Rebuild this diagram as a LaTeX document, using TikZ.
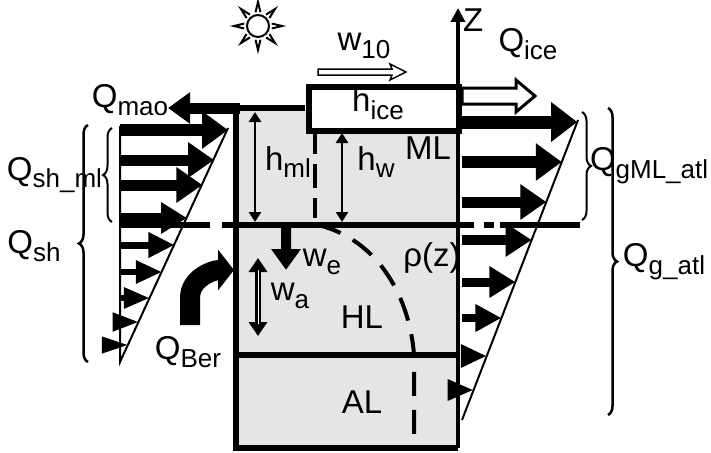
\documentclass[tikz,border=0pt]{standalone}
\usepackage{fontspec}
\setmainfont{Liberation Sans}
\usetikzlibrary{arrows.meta}
\usetikzlibrary{calc}
\usetikzlibrary{decorations.pathreplacing}
\usetikzlibrary{positioning}

\newcommand{\sub}[1]{\raisebox{-0.45ex}{\fontsize{26}{28}\selectfont #1}}

\tikzset{
	lbl/.style={font=\fontsize{33}{36}\selectfont, inner sep=1pt},
	dbl/.style={line width=2.5pt, {Triangle[length=10pt,width=12pt]}-{Triangle[length=10pt,width=12pt]}},
	brc/.style={decorate, decoration={brace, amplitude=9pt}, line width=2pt},
	bnd/.style={line width=6pt},
}

\begin{document}
\begin{tikzpicture}[x=1pt, y=-1pt]
	\useasboundingbox (0,0) rectangle (711,452);

	% Ocean column
	\fill[gray!20] (236,108) rectangle (458,448);
	\draw[bnd] (236,108) -- (236,448) -- (458,448);
	\draw[bnd] (236,108) -- (305,108);
	\draw[bnd] (236,355) -- (458,355);
	\draw[bnd] (236,225) -- (458,225);
	\draw[bnd, dash pattern=on 90pt off 12pt on 20pt off 500pt] (120,225) -- (236,225);
	\draw[bnd, dash pattern=on 16pt off 10pt on 10pt off 6pt on 100pt] (458,225) -- (580,225);

	% Ice
	\node[draw, line width=6pt, fill=white, minimum width=150pt, minimum height=44pt,
		anchor=north west] (ice) at (306,84) {};
	\node[lbl] (hice) at (378,104) {h\sub{ice}};

	% Z axis
	\coordinate (z0) at (458,448);
	\coordinate (z1) at (458,8);
	\draw[line width=4pt, -{Triangle[length=14pt,width=14pt]}] (z0) -- (z1);
	\node[lbl, right=4pt of z1, yshift=-12pt] (zlab) {Z};

	% Sun
	\node[circle, draw, line width=2pt, minimum size=22pt] (sun) at (258,26) {};
	\foreach \a in {0,45,...,315}
		\draw[line width=2pt] ($(sun.center)+(\a-10:14pt)$) -- ($(sun.center)+(\a:24pt)$) -- ($(sun.center)+(\a+10:14pt)$);

	% Wind
	\node[lbl] (w10) at (364,46) {w\sub{10}};
	\draw[line width=1.5pt] (318,69) -- (392,69) -- (390,64) -- (406,72) -- (390,80) -- (392,75) -- (318,75) -- cycle;

	% Ice heat flux
	\node[lbl] (qice) at (528,44) {Q\sub{ice}};
	\draw[line width=3pt, fill=white] (462,88) -- (516,88) -- (516,80) -- (535,96) -- (516,112) -- (516,104) -- (462,104) -- cycle;

	% Heat loss to atmosphere
	\node[lbl] (qmao) at (130,100) {Q\sub{mao}};
	\coordinate (m0) at (240,108);
	\coordinate (m1) at (168,108);
	\draw[line width=11pt, -{Triangle[length=22pt,width=30pt]}] (m0) -- (m1);

	% Mixed layer depths
	\coordinate (ml0) at (255,112);
	\coordinate (ml1) at (255,222);
	\draw[dbl] (ml0) -- (ml1);
	\node[lbl] (hml) at (288,162) {h\sub{ml}};
	\coordinate (hw0) at (342,133);
	\coordinate (hw1) at (342,222);
	\draw[dbl] (hw0) -- (hw1);
	\node[lbl] (hw) at (376,162) {h\sub{w}};
	\node[lbl] (ml) at (428,148) {ML};

	% Density profile
	\draw[line width=4pt, dash pattern=on 24pt off 10pt] (315,130) -- (315,218);
	\draw[line width=4pt, dash pattern=on 24pt off 14pt] (318,225) .. controls (380,240) and (410,300) .. (414,355) -- (414,445);
	\node[lbl] (rho) at (432,258) {ρ(z)};

	% Entrainment and advection
	\draw[line width=2pt, fill=black] (282,225) -- (282,250) -- (273,250) -- (286,268) -- (299,250) -- (290,250) -- (290,225) -- cycle;
	\node[lbl] (we) at (322,262) {w\sub{e}};
	\coordinate (wa0) at (258,258);
	\coordinate (wa1) at (258,336);
	\draw[line width=6pt, {Triangle[length=14pt,width=18pt]}-{Triangle[length=14pt,width=18pt]}] (wa0) -- (wa1);
	\draw[line width=1pt, white, shorten <=12pt, shorten >=12pt] (wa0) -- (wa1);
	\node[lbl] (wa) at (290,296) {w\sub{a}};
	\node[lbl] (hl) at (362,317) {HL};
	\node[lbl] (al) at (362,402) {AL};

	% Bering strait inflow
	\coordinate (b0) at (190,325);
	\coordinate (b1) at (234,270);
	\draw[line width=20pt, -{Triangle[length=16pt,width=40pt]}] (b0) -- (190,298) to[out=90, in=180] (b1);
	\node[lbl] (qber) at (188,352) {Q\sub{Ber}};

	% Shortwave profile (left)
	\draw[line width=2pt] (120,126) -- (120,362) -- (228,128);
	\foreach \y/\w/\h in {130/12/36, 160/11/34, 185/11/34, 218/10/30, 245/7/24, 272/6/22, 298/6/20, 322/5/18, 345/4/16}
		\draw[line width=\w pt, -{Triangle[length=26pt,width=\h pt]}] (120,\y) -- ({228-(\y-130)/232*108},\y);

	% Geothermal / atmospheric profile (right)
	\draw[line width=2pt] (578,120) -- (462,420);
	\foreach \y/\w/\h in {122/13/38, 162/12/36, 202/11/34, 240/10/32, 282/9/30, 318/8/26, 356/7/22, 390/6/20}
		\draw[line width=\w pt, -{Triangle[length=26pt,width=\h pt]}] (462,\y) -- ({578-(\y-120)/300*116},\y);

	% Braces
	\draw[brc] (112,222) -- (112,128) node[midway, left=8pt, lbl] (qshml) {Q\sub{sh\_ml}};
	\draw[brc, line width=2.5pt] (88,362) -- (88,125);
	\node[lbl] (qsh) at (34,246) {Q\sub{sh}};
	\draw[brc] (582,112) -- (582,220) node[midway, right=6pt, lbl] (qgml) {Q\sub{gML\_atl}};
	\draw[brc, line width=2.5pt] (608,108) -- (608,415);
	\node[lbl] (qg) at (664,262) {Q\sub{g\_atl}};
\end{tikzpicture}
\end{document}
